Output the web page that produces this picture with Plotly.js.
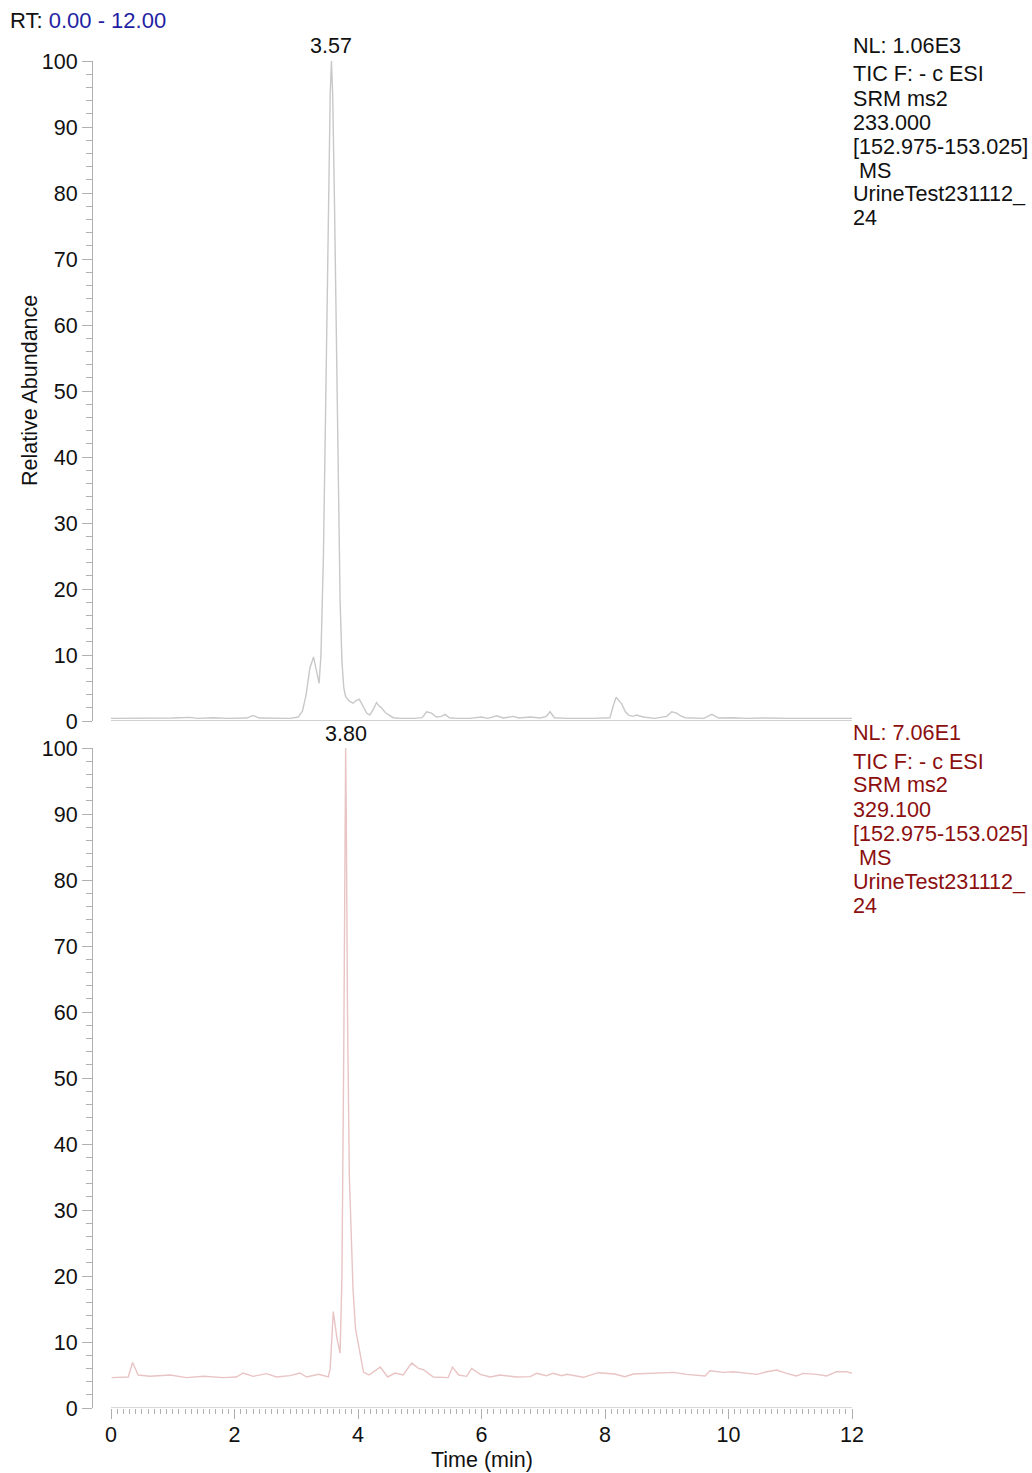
<!DOCTYPE html>
<html>
<head>
<meta charset="utf-8">
<script src="https://cdn.plot.ly/plotly-3.0.1.min.js"></script>
<style>
html,body{margin:0;padding:0;background:#fff;}
#chart{width:1032px;height:1473px;}
</style>
</head>
<body>
<div id="chart"></div>
<script>
// ---- Data ----
const topTime = [0.00,0.50,1.00,1.28,1.40,1.65,1.90,2.20,2.30,2.40,2.60,2.90,3.03,3.10,3.16,3.22,3.28,3.33,3.37,3.40,3.44,3.48,3.52,3.55,3.57,3.59,3.62,3.66,3.69,3.71,3.74,3.77,3.80,3.86,3.92,3.97,4.02,4.08,4.14,4.19,4.25,4.30,4.34,4.38,4.45,4.57,4.70,4.90,5.04,5.11,5.19,5.27,5.35,5.41,5.48,5.60,5.80,6.00,6.10,6.25,6.35,6.52,6.60,6.79,6.95,7.05,7.11,7.18,7.40,7.80,8.08,8.13,8.18,8.27,8.33,8.38,8.45,8.51,8.62,8.80,9.00,9.08,9.16,9.22,9.30,9.60,9.73,9.84,10.08,10.30,10.60,11.00,11.50,12.00];
const topAbund = [0.4,0.4,0.45,0.55,0.4,0.5,0.4,0.45,0.85,0.45,0.4,0.4,0.6,1.5,4,8,9.7,7.5,5.7,10,25,50,80,95,100,95,78,50,30,18.3,9,5,3.7,3.0,2.7,3.1,3.3,2.2,1.2,0.9,1.8,2.8,2.3,2.0,1.2,0.5,0.4,0.4,0.5,1.4,1.2,0.6,0.7,1.0,0.5,0.4,0.4,0.6,0.4,0.8,0.45,0.7,0.45,0.6,0.45,0.7,1.4,0.5,0.4,0.4,0.5,2.2,3.6,2.6,1.4,0.9,0.7,0.9,0.6,0.4,0.7,1.4,1.2,0.8,0.5,0.4,1.0,0.45,0.5,0.4,0.45,0.4,0.45,0.4];

const botTime = [0.01,0.28,0.35,0.44,0.63,0.96,1.22,1.50,1.82,2.03,2.14,2.30,2.52,2.68,2.90,3.06,3.17,3.36,3.52,3.55,3.60,3.66,3.71,3.74,3.77,3.79,3.80,3.81,3.83,3.86,3.89,3.92,3.96,4.01,4.05,4.09,4.18,4.36,4.48,4.60,4.73,4.87,4.98,5.06,5.22,5.46,5.53,5.63,5.76,5.84,5.98,6.14,6.30,6.57,6.79,6.89,7.05,7.16,7.30,7.38,7.65,7.89,8.16,8.32,8.46,8.73,8.94,9.11,9.32,9.54,9.62,9.70,9.92,10.08,10.29,10.46,10.62,10.78,10.94,11.10,11.21,11.43,11.59,11.75,11.91,12.00];
const botAbund = [4.6,4.7,6.9,5.0,4.8,5.0,4.6,4.8,4.6,4.7,5.3,4.8,5.2,4.7,4.9,5.3,4.7,5.1,4.7,6.0,14.6,10.5,8.3,20,55,90,100,90,60,35,25,17.9,12,9.4,7,5.4,5.0,6.2,4.7,5.3,5.0,6.8,6.0,5.8,4.7,4.6,6.2,5.0,4.8,6.0,5.1,4.7,5.0,4.7,4.75,5.25,4.9,5.25,4.9,5.1,4.65,5.35,5.15,4.75,5.15,5.25,5.25,5.4,5.1,4.85,4.85,5.65,5.4,5.5,5.25,5.1,5.5,5.75,5.25,4.85,5.25,5.1,4.85,5.5,5.5,5.25];

const yTickVals = [0,10,20,30,40,50,60,70,80,90,100];
const xTickVals = [0,2,4,6,8,10,12];
const topPeakLabel = "3.57";
const botPeakLabel = "3.80";
const topPeakTime = 3.57;
const botPeakTime = 3.80;
const topInfo = ["NL: 1.06E3","TIC F: - c ESI","SRM ms2","233.000","[152.975-153.025]","\u00a0MS","UrineTest231112_","24"];
const botInfo = ["NL: 7.06E1","TIC F: - c ESI","SRM ms2","329.100","[152.975-153.025]","\u00a0MS","UrineTest231112_","24"];

// ---- Layout helpers (pixel geometry) ----
const W = 1032, H = 1473;
const L = 93, R = 852, T = 61, B = 1408;
const PW = R - L, PH = B - T;
const px = x => (x - L) / PW;
const py = y => (B - y) / PH;
const xMin = -18 / 61.75;
const FONT = "Liberation Sans, Arial, Helvetica, sans-serif";
const axisGray = "#b0b0b0";

const minorX = [];
for (let i = 1; i < 120; i++) { if (i % 20 !== 0) minorX.push(i / 10); }

const traces = [
  {x: topTime, y: topAbund, xaxis: 'x', yaxis: 'y', type: 'scatter', mode: 'lines',
   line: {color: '#c8c8c8', width: 1.4}, hoverinfo: 'skip'},
  {x: botTime, y: botAbund, xaxis: 'x2', yaxis: 'y2', type: 'scatter', mode: 'lines',
   line: {color: '#e9c4c4', width: 1.4}, hoverinfo: 'skip'}
];

const yAxisCommon = {
  range: [0, 100], tickvals: yTickVals, ticktext: yTickVals.map(String),
  showgrid: false, zeroline: false, showline: true, linecolor: axisGray, linewidth: 1,
  ticks: 'outside', ticklen: 10, tickcolor: axisGray, tickwidth: 1,
  minor: {dtick: 2, tick0: 0, ticks: 'outside', ticklen: 6, tickcolor: axisGray, showgrid: false},
  tickfont: {family: FONT, size: 21.5, color: '#111'}, fixedrange: true
};

const annotations = [];
annotations.push({xref: 'paper', yref: 'paper', x: px(8), y: py(21), xanchor: 'left', yanchor: 'middle',
  text: "RT: <span style='color:#1f1fa3'>0.00 - 12.00</span>", showarrow: false,
  font: {family: FONT, size: 22, color: '#111'}});
annotations.push({xref: 'x', yref: 'y', x: topPeakTime, y: 100, xanchor: 'center', yanchor: 'bottom', yshift: 1,
  text: topPeakLabel, showarrow: false, font: {family: FONT, size: 21.5, color: '#111'}});
annotations.push({xref: 'x2', yref: 'y2', x: botPeakTime, y: 100, xanchor: 'center', yanchor: 'bottom', yshift: 0,
  text: botPeakLabel, showarrow: false, font: {family: FONT, size: 21.5, color: '#111'}});
const topLineY = [45, 74, 98, 122, 146, 170, 194, 218];
const botLineY = [732, 761, 785, 809, 833, 857, 881, 905];
topInfo.forEach((t, i) => annotations.push({xref: 'paper', yref: 'paper', x: px(851), y: py(topLineY[i]),
  xanchor: 'left', yanchor: 'middle', text: t, showarrow: false, font: {family: FONT, size: 21.6, color: '#111'}}));
botInfo.forEach((t, i) => annotations.push({xref: 'paper', yref: 'paper', x: px(851), y: py(botLineY[i]),
  xanchor: 'left', yanchor: 'middle', text: t, showarrow: false, font: {family: FONT, size: 21.6, color: '#8c0f0f'}}));
annotations.push({xref: 'paper', yref: 'paper', x: px(30), y: py(391), xanchor: 'center', yanchor: 'middle',
  textangle: -90, text: 'Relative Abundance', showarrow: false, font: {family: FONT, size: 21.5, color: '#111'}});
annotations.push({xref: 'paper', yref: 'paper', x: px(482), y: py(1460), xanchor: 'center', yanchor: 'middle',
  text: 'Time (min)', showarrow: false, font: {family: FONT, size: 21.5, color: '#111'}});

const layout = {
  width: W, height: H, paper_bgcolor: '#fff', plot_bgcolor: '#fff', showlegend: false,
  margin: {l: L, r: W - R, t: T, b: H - B, pad: 0},
  xaxis: {domain: [0, 1], range: [xMin, 12], anchor: 'y', visible: false, fixedrange: true},
  yaxis: Object.assign({}, yAxisCommon, {domain: [(B - 721) / PH, 1], anchor: 'x'}),
  xaxis2: {domain: [0, 1], range: [xMin, 12], anchor: 'y2', showgrid: false, zeroline: false, showline: false,
    tickmode: 'array', tickvals: xTickVals, ticktext: xTickVals.map(String),
    ticks: 'outside', ticklen: 10, tickcolor: axisGray, tickwidth: 1, ticklabelstandoff: -3,
    minor: {tickmode: 'array', tickvals: minorX, ticks: 'outside', ticklen: 5, tickcolor: axisGray, showgrid: false},
    tickfont: {family: FONT, size: 21.5, color: '#111'}, fixedrange: true},
  yaxis2: Object.assign({}, yAxisCommon, {domain: [0, (B - 748) / PH], anchor: 'x2'}),
  shapes: [
    {type: 'line', xref: 'x', yref: 'y', x0: 0, x1: 12, y0: 0, y1: 0, layer: 'below',
     line: {color: '#d2d2d2', width: 2}},
    {type: 'line', xref: 'x2', yref: 'y2', x0: 0, x1: 12, y0: 0, y1: 0, layer: 'above',
     line: {color: axisGray, width: 1}}
  ],
  annotations: annotations
};

Plotly.newPlot('chart', traces, layout, {displayModeBar: false, staticPlot: true});
</script>
</body>
</html>
